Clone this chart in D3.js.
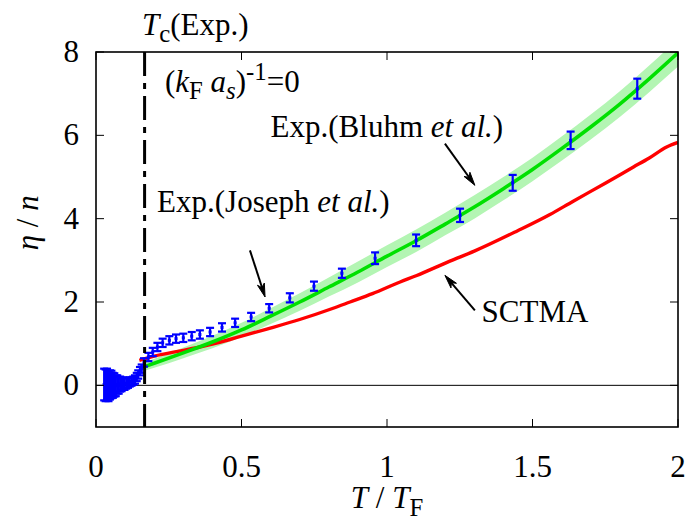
<!DOCTYPE html>
<html>
<head>
<meta charset="utf-8">
<script src="https://cdn.jsdelivr.net/npm/d3@7/dist/d3.min.js"></script>
<style>
  body { margin: 0; background: #fff; }
  text { font-family: "Liberation Serif", "Times New Roman", serif; fill: #000; }
</style>
</head>
<body>
<svg id="chart" width="691" height="522"></svg>
<script>
// Axis ticks
const xTicks = [0, 0.5, 1, 1.5, 2];
const yTicks = [0, 2, 4, 6, 8];

// Experimental T_c
const tcExp = 0.167;

// Experimental data, Joseph et al.
const josephT = [0.028, 0.033, 0.038, 0.043, 0.048, 0.053, 0.058, 0.063, 0.068, 0.073,
                 0.078, 0.083, 0.088, 0.093, 0.098, 0.104, 0.110, 0.116, 0.122, 0.128,
                 0.134, 0.140, 0.145, 0.151, 0.157, 0.165, 0.180, 0.195, 0.211, 0.229,
                 0.252, 0.275, 0.300, 0.329, 0.357, 0.392, 0.433, 0.478, 0.533, 0.595,
                 0.666, 0.749, 0.845];
const josephEta = [0.02, 0.00, 0.03, -0.02, 0.01, 0.02, 0.00, 0.01, -0.01, 0.02,
                   0.00, 0.03, 0.02, 0.04, 0.03, 0.05, 0.06, 0.08, 0.09, 0.11,
                   0.14, 0.20, 0.26, 0.34, 0.40, 0.55, 0.68, 0.80, 0.92, 1.02,
                   1.08, 1.12, 1.14, 1.18, 1.22, 1.28, 1.39, 1.50, 1.64, 1.85,
                   2.10, 2.38, 2.69];
const josephErr = [0.38, 0.38, 0.37, 0.36, 0.35, 0.33, 0.30, 0.28, 0.25, 0.22,
                   0.20, 0.18, 0.16, 0.15, 0.14, 0.13, 0.12, 0.11, 0.10, 0.10,
                   0.10, 0.10, 0.10, 0.10, 0.10, 0.10, 0.10, 0.10, 0.10, 0.10,
                   0.10, 0.10, 0.10, 0.10, 0.10, 0.10, 0.10, 0.10, 0.10, 0.10,
                   0.11, 0.11, 0.11];

// Experimental data, Bluhm et al.
const bluhmT   = [0.959, 1.100, 1.251, 1.432, 1.631, 1.860];
const bluhmEta = [3.05, 3.48, 4.08, 4.86, 5.88, 7.12];
const bluhmErr = [0.14, 0.14, 0.16, 0.19, 0.21, 0.24];

// Fit to Bluhm et al. with its uncertainty band
const fitT    = [0.167, 0.2, 0.3, 0.4, 0.5, 0.6, 0.7, 0.8, 0.9, 1.0,
                 1.1, 1.2, 1.3, 1.4, 1.5, 1.6, 1.7, 1.8, 1.9, 2.0];
const fitEta  = [0.45, 0.53, 0.78, 1.04, 1.33, 1.66, 2.00, 2.36, 2.72, 3.10,
                 3.47, 3.87, 4.28, 4.72, 5.18, 5.68, 6.20, 6.75, 7.35, 7.98];
const fitHalf = [0.10, 0.11, 0.13, 0.15, 0.17, 0.19, 0.21, 0.23, 0.25, 0.26,
                 0.27, 0.27, 0.28, 0.28, 0.28, 0.29, 0.30, 0.31, 0.32, 0.33];

// SCTMA result
const sctmaT   = [0.149, 0.2, 0.3, 0.357, 0.4, 0.46, 0.5, 0.587, 0.7, 0.815,
                  0.873, 0.95, 1.045, 1.1, 1.216, 1.3, 1.446, 1.56, 1.64, 1.75,
                  1.847, 1.9, 1.961, 2.0];
const sctmaEta = [0.60, 0.70, 0.84, 0.92, 0.99, 1.10, 1.18, 1.35, 1.58, 1.85,
                  2.00, 2.20, 2.48, 2.63, 2.98, 3.22, 3.70, 4.10, 4.42, 4.85,
                  5.24, 5.45, 5.72, 5.83];

const W = 691, H = 522;
const margin = { left: 96, right: 13, top: 52, bottom: 95 };
const svg = d3.select("#chart");

const x = d3.scaleLinear().domain([0, 2]).range([margin.left, W - margin.right]);
const y = d3.scaleLinear().domain([-1, 8]).range([H - margin.bottom, margin.top]);

svg.append("defs").append("clipPath").attr("id", "plotArea")
  .append("rect")
  .attr("x", x(0)).attr("y", y(8))
  .attr("width", x(2) - x(0)).attr("height", y(-1) - y(8));

const plot = svg.append("g").attr("clip-path", "url(#plotArea)");

// zero line
plot.append("line")
  .attr("x1", x(0)).attr("x2", x(2)).attr("y1", y(0)).attr("y2", y(0))
  .attr("stroke", "#000").attr("stroke-width", 1);

// band of the Bluhm fit
const fitRows = fitT.map((t, i) => ({ t, v: fitEta[i], h: fitHalf[i] }));
plot.append("path")
  .datum(fitRows)
  .attr("fill", "#b3f5b3")
  .attr("d", d3.area().x(d => x(d.t)).y0(d => y(d.v - d.h)).y1(d => y(d.v + d.h)).curve(d3.curveMonotoneX));

// SCTMA curve
const sctmaRows = sctmaT.map((t, i) => ({ t, v: sctmaEta[i] }));
plot.append("path")
  .datum(sctmaRows)
  .attr("fill", "none").attr("stroke", "#ff0000").attr("stroke-width", 3.4)
  .attr("d", d3.line().x(d => x(d.t)).y(d => y(d.v)).curve(d3.curveMonotoneX));

// Bluhm fit line
plot.append("path")
  .datum(fitRows)
  .attr("fill", "none").attr("stroke", "#00e000").attr("stroke-width", 3.6)
  .attr("d", d3.line().x(d => x(d.t)).y(d => y(d.v)).curve(d3.curveMonotoneX));

// error bars
function errorBars(ts, vs, es) {
  const rows = ts.map((t, i) => ({ t, v: vs[i], e: es[i] }));
  const g = plot.append("g").attr("stroke", "#0000ff").attr("stroke-width", 2.2).attr("fill", "none");
  const cap = 4;
  const bar = g.selectAll("g").data(rows).join("g");
  bar.append("line")
    .attr("x1", d => x(d.t)).attr("x2", d => x(d.t))
    .attr("y1", d => y(d.v - d.e)).attr("y2", d => y(d.v + d.e));
  bar.append("line")
    .attr("x1", d => x(d.t) - cap).attr("x2", d => x(d.t) + cap)
    .attr("y1", d => y(d.v - d.e)).attr("y2", d => y(d.v - d.e));
  bar.append("line")
    .attr("x1", d => x(d.t) - cap).attr("x2", d => x(d.t) + cap)
    .attr("y1", d => y(d.v + d.e)).attr("y2", d => y(d.v + d.e));
  bar.append("rect")
    .attr("x", d => x(d.t) - 1.5).attr("y", d => y(d.v) - 1.5)
    .attr("width", 3).attr("height", 3)
    .attr("fill", "#0000ff").attr("stroke", "none");
}
errorBars(josephT, josephEta, josephErr);
errorBars(bluhmT, bluhmEta, bluhmErr);

// T_c marker
plot.append("line")
  .attr("x1", x(tcExp)).attr("x2", x(tcExp))
  .attr("y1", y(8)).attr("y2", y(-1))
  .attr("stroke", "#000").attr("stroke-width", 3)
  .attr("stroke-dasharray", "24,7,6,7");

// frame and ticks
const tickLen = 8;
const axes = svg.append("g").attr("stroke", "#000").attr("stroke-width", 1);
xTicks.forEach(t => {
  axes.append("line").attr("x1", x(t)).attr("x2", x(t)).attr("y1", y(-1)).attr("y2", y(-1) - tickLen);
  axes.append("line").attr("x1", x(t)).attr("x2", x(t)).attr("y1", y(8)).attr("y2", y(8) + tickLen);
});
yTicks.forEach(v => {
  axes.append("line").attr("x1", x(0)).attr("x2", x(0) + tickLen).attr("y1", y(v)).attr("y2", y(v));
  axes.append("line").attr("x1", x(2)).attr("x2", x(2) - tickLen).attr("y1", y(v)).attr("y2", y(v));
});
svg.append("rect")
  .attr("x", x(0)).attr("y", y(8))
  .attr("width", x(2) - x(0)).attr("height", y(-1) - y(8))
  .attr("fill", "none").attr("stroke", "#000").attr("stroke-width", 1.6);

// tick labels
const fs = 31;
const fmt = d => String(d);
svg.append("g").selectAll("text").data(xTicks).join("text")
  .attr("x", d => x(d)).attr("y", 477)
  .attr("text-anchor", "middle").attr("font-size", fs)
  .text(fmt);
svg.append("g").selectAll("text").data(yTicks).join("text")
  .attr("x", 79).attr("y", d => y(d) + 10)
  .attr("text-anchor", "end").attr("font-size", fs)
  .text(fmt);

// axis titles
const xl = svg.append("text").attr("x", x(1)).attr("y", 508)
  .attr("text-anchor", "middle").attr("font-size", fs);
xl.append("tspan").attr("font-style", "italic").text("T");
xl.append("tspan").text(" / ");
xl.append("tspan").attr("font-style", "italic").text("T");
xl.append("tspan").attr("font-size", fs * 0.8).attr("dy", 8).text("F");

const yl = svg.append("text")
  .attr("transform", `translate(38,${y(3.9)}) rotate(-90)`)
  .attr("text-anchor", "middle").attr("font-size", fs);
yl.append("tspan").attr("font-style", "italic").text("η");
yl.append("tspan").text(" / ");
yl.append("tspan").attr("font-style", "italic").text("n");

// annotations
const tcl = svg.append("text").attr("x", x(0.158)).attr("y", y(8.4)).attr("font-size", fs);
tcl.append("tspan").attr("font-style", "italic").text("T");
tcl.append("tspan").attr("font-size", fs * 0.8).attr("dy", 7).text("c");
tcl.append("tspan").attr("dy", -7).text("(Exp.)");

const kl = svg.append("text").attr("x", x(0.237)).attr("y", y(7.04)).attr("font-size", fs);
kl.append("tspan").text("(");
kl.append("tspan").attr("font-style", "italic").text("k");
kl.append("tspan").attr("font-size", fs * 0.8).attr("dy", 7).text("F");
kl.append("tspan").attr("dy", -7).text(" ");
kl.append("tspan").attr("font-style", "italic").text("a");
kl.append("tspan").attr("font-style", "italic").attr("font-size", fs * 0.8).attr("dy", 7).text("s");
kl.append("tspan").attr("dy", -7).text(")");
kl.append("tspan").attr("font-size", fs * 0.8).attr("dy", -12).text("-1");
kl.append("tspan").attr("dy", 12).text("=0");

function label(t, v, parts) {
  const el = svg.append("text").attr("x", x(t)).attr("y", y(v)).attr("font-size", fs);
  parts.forEach(([s, it]) => el.append("tspan").attr("font-style", it ? "italic" : "normal").text(s));
}
label(0.600, 5.96, [["Exp.(Bluhm ", false], ["et al.", true], [")", false]]);
label(0.210, 4.15, [["Exp.(Joseph ", false], ["et al.", true], [")", false]]);
label(1.325, 1.52, [["SCTMA", false]]);

// arrows
const arrows = [
  { t0: 1.199, v0: 5.80, t1: 1.302, v1: 4.80 },
  { t0: 0.529, v0: 3.24, t1: 0.581, v1: 2.12 },
  { t0: 1.302, v0: 1.80, t1: 1.199, v1: 2.64 }
];
arrows.forEach(a => {
  const x0 = x(a.t0), y0 = y(a.v0), x1 = x(a.t1), y1 = y(a.v1);
  const ang = Math.atan2(y1 - y0, x1 - x0);
  const L = 14, spread = 0.26;
  svg.append("line").attr("x1", x0).attr("y1", y0)
    .attr("x2", x1 - 6 * Math.cos(ang)).attr("y2", y1 - 6 * Math.sin(ang))
    .attr("stroke", "#000").attr("stroke-width", 2);
  const p = [
    [x1, y1],
    [x1 - L * Math.cos(ang - spread), y1 - L * Math.sin(ang - spread)],
    [x1 - L * 0.7 * Math.cos(ang), y1 - L * 0.7 * Math.sin(ang)],
    [x1 - L * Math.cos(ang + spread), y1 - L * Math.sin(ang + spread)]
  ];
  svg.append("path").attr("d", "M" + p.map(q => q.join(",")).join("L") + "Z")
    .attr("fill", "#000").attr("stroke", "#000").attr("stroke-width", 1);
});
</script>
</body>
</html>
